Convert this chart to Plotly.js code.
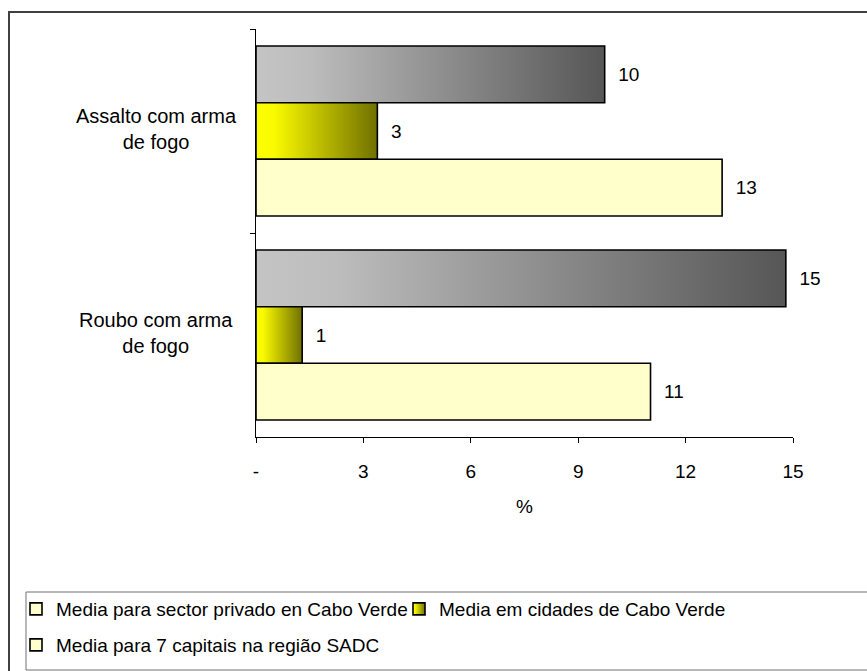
<!DOCTYPE html>
<html>
<head>
<meta charset="utf-8">
<script src="https://cdn.plot.ly/plotly-3.0.1.min.js"></script>
<style>
  html, body { margin: 0; padding: 0; background: #ffffff; }
  #chart { width: 867px; height: 671px; }
</style>
</head>
<body>
<div id="chart"></div>
<script>
// Categories (top to bottom) and their display labels
const categories = ['Assalto com arma de fogo', 'Roubo com arma de fogo'];
const categoryLabels = ['Assalto com arma<br>de fogo', 'Roubo com arma<br>de fogo'];

// Series names
const seriesNames = [
  'Media para sector privado en Cabo Verde',
  'Media em cidades de Cabo Verde',
  'Media para 7 capitais na região SADC'
];

// Percentages per series, in category order
const privadoCV = [9.74, 14.8];
const cidadesCV = [3.39, 1.29];
const capitaisSADC = [13.02, 11.02];

// X axis ticks
const xTickVals = [0, 3, 6, 9, 12, 15];
const xTickText = ['-', '3', '6', '9', '12', '15'];

const FONT = 'Liberation Sans, Arial, sans-serif';
const FS = 19;

function barTrace(name, values, color, legendId) {
  return {
    type: 'bar',
    orientation: 'h',
    name: name,
    y: categories,
    x: values,
    legend: legendId,
    marker: { color: color, line: { color: '#000000', width: 1.6 } },
    texttemplate: '\u00a0\u00a0%{x:.0f}',
    textposition: 'outside',
    textfont: { family: FONT, size: FS, color: '#000000' },
    cliponaxis: false,
    hoverinfo: 'x+name'
  };
}

const data = [
  barTrace(seriesNames[0], privadoCV, '#c0c0c0', 'legend'),
  barTrace(seriesNames[1], cidadesCV, '#ffff00', 'legend'),
  barTrace(seriesNames[2], capitaisSADC, '#ffffcc', 'legend2')
];

// plot area in pixels: left 256, right 793, top 29, bottom 437
const L = 256, R = 793, T = 29, B = 437;
const W = 867, H = 671;
const px = v => (v - L) / (R - L);
const py = v => (B - v) / (B - T);

const annotations = categories.map((c, i) => ({
  xref: 'paper', yref: 'y',
  x: px(156), y: c,
  yshift: 2,
  text: categoryLabels[i],
  showarrow: false,
  xanchor: 'center', yanchor: 'middle',
  align: 'center',
  font: { family: FONT, size: 20, color: '#000000' }
}));

const legendBase = {
  orientation: 'h',
  xanchor: 'left',
  yanchor: 'middle',
  bgcolor: 'rgba(0,0,0,0)',
  entrywidth: 338,
  entrywidthmode: 'pixels',
  font: { family: FONT, size: FS, color: '#000000' },
  itemclick: false, itemdoubleclick: false
};

const layout = {
  width: W, height: H,
  margin: { l: L, r: W - R, t: T, b: H - B, pad: 0, autoexpand: false },
  paper_bgcolor: '#ffffff',
  plot_bgcolor: '#ffffff',
  font: { family: FONT, size: FS, color: '#000000' },
  barmode: 'group',
  bargap: 0.167,
  bargroupgap: 0,
  showlegend: true,
  xaxis: {
    range: [0, 15],
    tickvals: xTickVals,
    ticktext: xTickText,
    ticks: 'outside', ticklen: 5, tickwidth: 1, tickcolor: '#000000',
    ticklabelstandoff: 12,
    showline: true, linecolor: '#000000', linewidth: 1,
    showgrid: false, zeroline: false,
    tickfont: { family: FONT, size: FS, color: '#000000' },
    title: { text: '%', font: { family: FONT, size: FS, color: '#000000' }, standoff: 18 },
    fixedrange: true
  },
  yaxis: {
    type: 'category',
    autorange: 'reversed',
    tickson: 'boundaries',
    ticks: 'outside', ticklen: 5, tickwidth: 1, tickcolor: '#000000',
    showticklabels: false,
    showline: true, linecolor: '#000000', linewidth: 1,
    showgrid: false, zeroline: false,
    fixedrange: true
  },
  legend: Object.assign({}, legendBase, { x: px(16), y: py(609) }),
  legend2: Object.assign({}, legendBase, { x: px(16), y: py(645) }),
  annotations: annotations,
  shapes: [
    // chart frame
    { type: 'rect', xref: 'paper', yref: 'paper', layer: 'below',
      x0: px(9), x1: px(W + 20), y0: py(H + 20), y1: py(12),
      line: { color: '#404040', width: 2 }, fillcolor: 'rgba(0,0,0,0)' },
    // legend box
    { type: 'rect', xref: 'paper', yref: 'paper', layer: 'below',
      x0: px(26), x1: px(W + 20), y0: py(670), y1: py(592),
      line: { color: '#707070', width: 1 }, fillcolor: 'rgba(0,0,0,0)' }
  ]
};

function addGradient(defs, id, stops) {
  const ns = 'http://www.w3.org/2000/svg';
  const g = document.createElementNS(ns, 'linearGradient');
  g.setAttribute('id', id);
  g.setAttribute('x1', '0'); g.setAttribute('y1', '0');
  g.setAttribute('x2', '1'); g.setAttribute('y2', '0');
  stops.forEach(s => {
    const st = document.createElementNS(ns, 'stop');
    st.setAttribute('offset', s[0]);
    st.setAttribute('stop-color', s[1]);
    g.appendChild(st);
  });
  defs.appendChild(g);
}

const gd = document.getElementById('chart');
Plotly.newPlot(gd, data, layout, { displayModeBar: false, staticPlot: true }).then(() => {
  const svg = gd.querySelector('.main-svg');
  const defs = svg.querySelector('defs');
  addGradient(defs, 'fillPrivado', [[0, '#c4c4c4'], [0.15, '#bdbdbd'], [1, '#565656']]);
  addGradient(defs, 'fillCidades', [[0, '#ffff00'], [0.15, '#fafa00'], [1, '#707000']]);

  const traces = gd.querySelectorAll('.barlayer .trace');
  traces.forEach((t, i) => {
    const id = i === 0 ? 'fillPrivado' : (i === 1 ? 'fillCidades' : null);
    if (!id) return;
    t.querySelectorAll('path').forEach(p => { p.style.fill = 'url(#' + id + ')'; });
  });

  // legend swatches
  const legendPts = gd.querySelectorAll('.legend .traces .legendpoints path');
  legendPts.forEach((p, i) => {
    if (i === 0) p.style.fill = '#ffffcc';
    if (i === 1) p.style.fill = 'url(#fillCidades)';
  });
});
</script>
</body>
</html>
